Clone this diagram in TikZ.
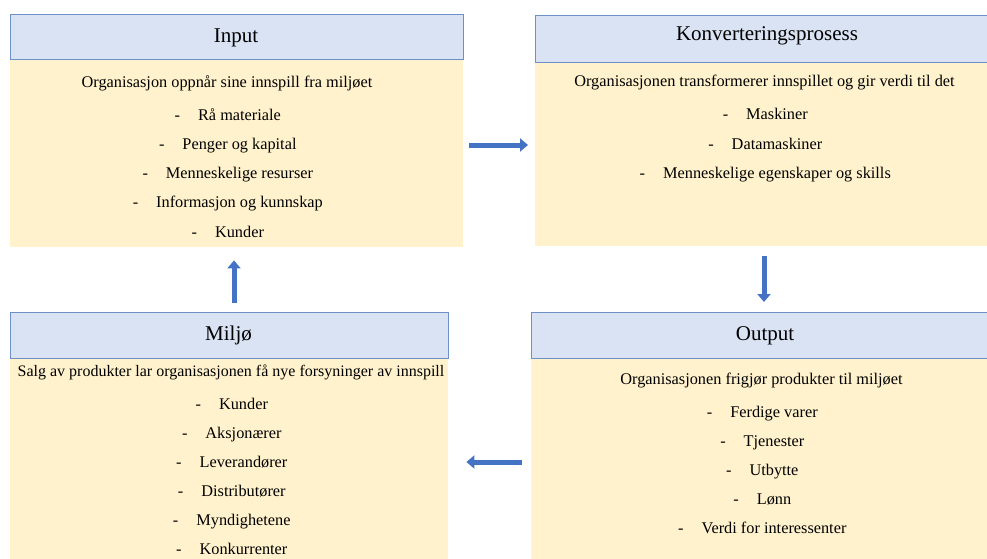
\documentclass[tikz,border=0pt]{standalone}
\usepackage{fontspec}
\setmainfont{Liberation Serif}
\usetikzlibrary{arrows.meta,calc}
\definecolor{hdrfill}{HTML}{DAE3F3}
\definecolor{hdrline}{HTML}{6F8FC9}
\definecolor{bodyfill}{HTML}{FFF2CC}
\definecolor{arrowblue}{HTML}{4472C4}
\newcommand{\dashitem}[1]{\llap{-\hspace{18pt}}#1}
\tikzset{
  x=1pt, y=-1pt,
  hdr/.style={draw=hdrline, line width=0.8pt, fill=hdrfill, anchor=north west, inner sep=0pt},
  bodybox/.style={fill=bodyfill, anchor=north west, inner sep=0pt},
  ttl/.style={anchor=base, inner sep=0pt, font=\fontsize{21}{24}\selectfont},
  txt/.style={anchor=base, inner sep=0pt, font=\fontsize{16.3}{18}\selectfont},
  item/.style={txt},
  blockarrow/.style={draw=arrowblue, line width=5pt, -{Triangle[width=13pt,length=8pt]}}
}
\begin{document}
\begin{tikzpicture}
\useasboundingbox (0,0) rectangle (987,559);
\fill[white] (0,0) rectangle (987,559);

% Input
\node[bodybox, minimum width=453pt, minimum height=188pt] (inb) at (10,59) {};
\node[hdr, minimum width=453pt, minimum height=45pt] (inh) at (10,14) {};
\node[ttl] (int) at (236,43) {Input};
\node[txt] (ins) at (227,88) {Organisasjon oppnår sine innspill fra miljøet};
\node[item] (in1) at (239.5,120.5) {\dashitem{Rå materiale}};
\node[item] (in2) at (239.5,149.5) {\dashitem{Penger og kapital}};
\node[item] (in3) at (239.5,178.5) {\dashitem{Menneskelige resurser}};
\node[item] (in4) at (239.5,207.5) {\dashitem{Informasjon og kunnskap}};
\node[item] (in5) at (239.5,237) {\dashitem{Kunder}};

% Konverteringsprosess
\node[bodybox, minimum width=460pt, minimum height=184pt] (kob) at (535,62) {};
\node[hdr, minimum width=460pt, minimum height=47pt] (koh) at (535,15) {};
\node[ttl] (kot) at (767,41) {Konverteringsprosess};
\node[txt] (kos) at (764.5,87) {Organisasjonen transformerer innspillet og gir verdi til det};
\node[item] (ko1) at (777,120) {\dashitem{Maskiner}};
\node[item] (ko2) at (777,149) {\dashitem{Datamaskiner}};
\node[item] (ko3) at (777,178) {\dashitem{Menneskelige egenskaper og skills}};

% Miljø
\node[bodybox, minimum width=438pt, minimum height=205pt] (mib) at (10,358) {};
\node[hdr, minimum width=438pt, minimum height=46pt] (mih) at (10,312) {};
\node[ttl] (mit) at (228.5,340) {Miljø};
\node[txt, font=\fontsize{16}{18}\selectfont] (mis) at (231,376.5) {Salg av produkter lar organisasjonen få nye forsyninger av innspill};
\node[item] (mi1) at (243.5,409) {\dashitem{Kunder}};
\node[item] (mi2) at (243.5,438.3) {\dashitem{Aksjonærer}};
\node[item] (mi3) at (243.5,467.3) {\dashitem{Leverandører}};
\node[item] (mi4) at (243.5,496.7) {\dashitem{Distributører}};
\node[item] (mi5) at (243.5,525.7) {\dashitem{Myndighetene}};
\node[item] (mi6) at (243.5,554.3) {\dashitem{Konkurrenter}};

% Output
\node[bodybox, minimum width=460pt, minimum height=205pt] (oub) at (531,358) {};
\node[hdr, minimum width=460pt, minimum height=46pt] (ouh) at (531,312) {};
\node[ttl] (out) at (765,340) {Output};
\node[txt] (ous) at (761.5,384.3) {Organisasjonen frigjør produkter til miljøet};
\node[item] (ou1) at (774,417.3) {\dashitem{Ferdige varer}};
\node[item] (ou2) at (774,446.3) {\dashitem{Tjenester}};
\node[item] (ou3) at (774,475) {\dashitem{Utbytte}};
\node[item] (ou4) at (774,504.3) {\dashitem{Lønn}};
\node[item] (ou5) at (774,533.3) {\dashitem{Verdi for interessenter}};

% Arrows
\draw[blockarrow] ($(inb.east |- 0,145)+(6,0)$) -- ($(kob.west |- 0,145)+(-7,0)$);
\draw[blockarrow] ($(kob.south -| 764,0)+(0,10)$) -- ($(ouh.north -| 764,0)+(0,-10)$);
\draw[blockarrow] ($(oub.west |- 0,462)+(-9,0)$) -- ($(mib.east |- 0,462)+(18,0)$);
\draw[blockarrow] ($(mih.north -| 234,0)+(0,-9)$) -- ($(inb.south -| 234,0)+(0,13)$);
\end{tikzpicture}
\end{document}
